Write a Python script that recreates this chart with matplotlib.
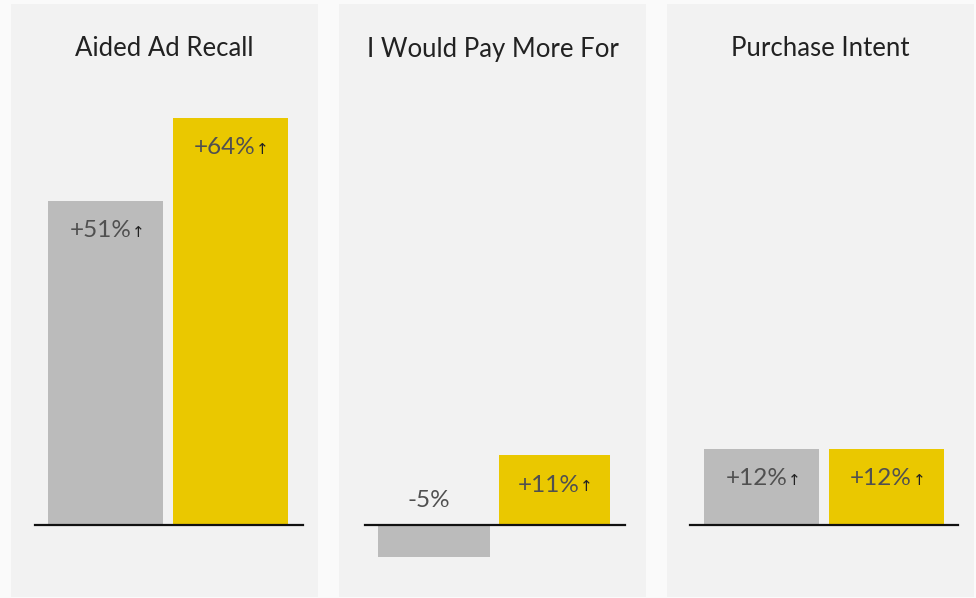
import matplotlib
matplotlib.use('Agg')
import matplotlib.pyplot as plt

plt.rcParams['font.family'] = ['Lato', 'DejaVu Sans']

titles = ['Aided Ad Recall', 'I Would Pay More For', 'Purchase Intent']
gray_values = [51, -5, 12]
yellow_values = [64, 11, 12]
gray_labels = ['+51%', '-5%', '+12%']
yellow_labels = ['+64%', '+11%', '+12%']
gray_arrows = [True, False, True]
yellow_arrows = [True, True, True]

GRAY = '#bbbbbb'
YELLOW = '#eac800'
PANEL = '#f2f2f2'
TEXT = '#505050'

W, H = 976, 598
fig = plt.figure(figsize=(W / 100, H / 100), dpi=100)
fig.patch.set_facecolor('#fafafa')

# panel left edges / widths in pixels
panel_x = [11, 339, 667]
panel_w = 307
top_px, bottom_px = 4, 597
# per panel x-range (category units) and baseline extent (axes fraction)
xlims = [(-0.76, 1.70), (-0.79, 1.76), (-0.76, 1.70)]
widths = [0.92, 0.93, 0.92]
base_ext = [(0.078, 0.951), (0.085, 0.932), (0.075, 0.948)]


def label(ax, x, v, text, arrow):
    if v >= 0:
        off = -30
    else:
        off = 25
        v = 0
    t = ax.annotate(text, (x, v), xytext=(-4, off * 0.72), textcoords='offset points',
                    ha='center', va='center', fontsize=17.5, color=TEXT)
    if arrow:
        ax.annotate('\u2191', xy=(1, 0.42), xycoords=t, xytext=(0.3, 0),
                    textcoords='offset points', ha='left', va='center',
                    fontsize=11, color='#222222', family=['DejaVu Sans'])


for i in range(3):
    ax = fig.add_axes([panel_x[i] / W, 1 - bottom_px / H,
                       panel_w / W, (bottom_px - top_px) / H])
    ax.set_facecolor(PANEL)
    for s in ax.spines.values():
        s.set_visible(False)
    ax.set_xticks([])
    ax.set_yticks([])
    ax.set_xlim(*xlims[i])
    ax.set_ylim(-11.3, 81.9)

    ax.bar(0, gray_values[i], width=widths[i], color=GRAY)
    ax.bar(1, yellow_values[i], width=widths[i], color=YELLOW)
    ax.axhline(0, xmin=base_ext[i][0], xmax=base_ext[i][1], color='#111111', lw=1.6)

    label(ax, 0, gray_values[i], gray_labels[i], gray_arrows[i])
    label(ax, 1, yellow_values[i], yellow_labels[i], yellow_arrows[i])

    ax.text(0.5, 1 - 45 / (bottom_px - top_px), titles[i], transform=ax.transAxes,
            ha='center', va='center', fontsize=18.5, color='#222222')

fig.savefig('out.png', dpi=100, facecolor=fig.get_facecolor())
